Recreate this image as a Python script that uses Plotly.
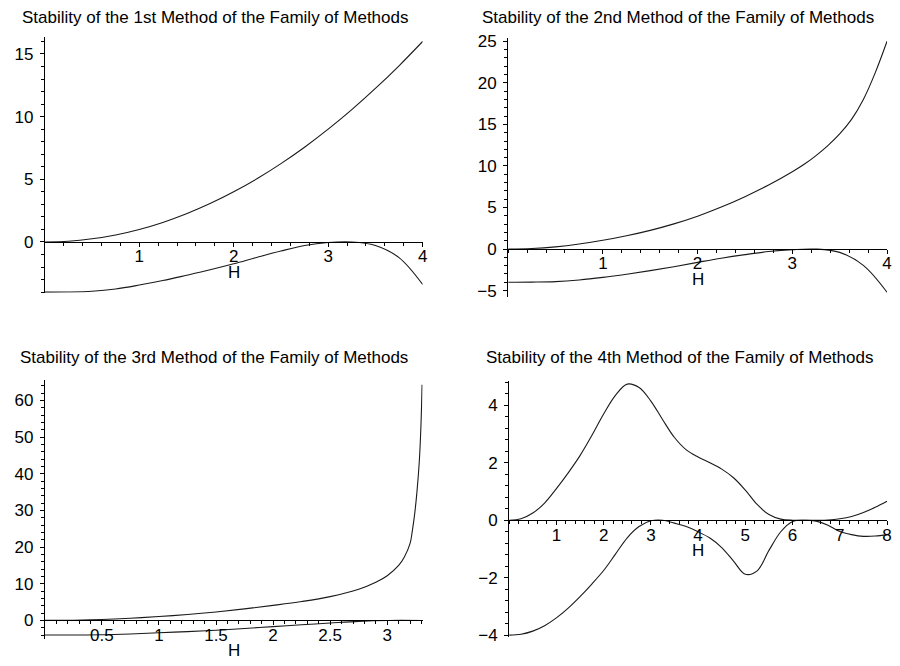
import plotly.graph_objects as go

# ---------------- data ----------------
h1 = [0, 0.25, 0.5, 0.75, 1, 1.25, 1.5, 1.75, 2, 2.25, 2.5, 2.75, 3, 3.25, 3.5, 3.75, 4]
upper1 = [0, 0.06, 0.25, 0.56, 1.0, 1.56, 2.25, 3.06, 4.0, 5.06, 6.25, 7.56, 9.0, 10.56, 12.25, 14.06, 16.0]
h1_low = [0, 0.25, 0.5, 0.75, 1, 1.25, 1.5, 1.75, 2, 2.25, 2.5, 2.75, 3, 3.25, 3.5, 3.75, 4]
lower1 = [-4.0, -3.99, -3.93, -3.75, -3.44, -3.08, -2.66, -2.22, -1.74, -1.22, -0.72, -0.28, -0.04, 0.0,
          -0.28, -1.25, -3.39]

h2 = [0, 0.25, 0.5, 0.75, 1, 1.25, 1.5, 1.75, 2, 2.25, 2.5, 2.75, 3, 3.125, 3.25, 3.375, 3.5, 3.625, 3.75,
      3.875, 4]
upper2 = [0, 0.06, 0.26, 0.6, 1.05, 1.6, 2.25, 3.03, 3.95, 5.05, 6.3, 7.7, 9.3, 10.2, 11.25, 12.45, 13.85, 15.6,
          18.0, 21.2, 25.0]
h2_low = [0, 0.25, 0.5, 0.75, 1, 1.25, 1.5, 1.75, 2, 2.25, 2.5, 2.75, 3, 3.25, 3.5, 3.75, 4]
lower2 = [-4.0, -3.98, -3.92, -3.72, -3.41, -3.03, -2.6, -2.12, -1.6, -1.1, -0.67, -0.3, -0.07, 0.0,
          -0.4, -1.96, -5.2]

h3 = [0, 0.25, 0.5, 0.75, 1, 1.25, 1.5, 1.75, 2, 2.25, 2.5, 2.75, 2.9, 3.0, 3.1, 3.15, 3.2, 3.22, 3.24,
      3.26, 3.28, 3.295, 3.305]
upper3 = [0, 0.06, 0.26, 0.6, 1.05, 1.6, 2.3, 3.15, 4.1, 5.15, 6.5, 8.5, 10.4, 12.2, 15.0, 17.3, 21.0, 24.5, 29.0,
          35.0, 43.0, 53.0, 64.3]
h3_low = [0, 0.25, 0.5, 0.75, 1, 1.25, 1.5, 1.75, 2, 2.25, 2.5, 2.75, 3, 3.305]
lower3 = [-4.0, -3.98, -3.92, -3.7, -3.38, -3.05, -2.67, -2.2, -1.69, -1.2, -0.71, -0.25, -0.02, -0.02]

h4 = [0, 0.25, 0.5, 0.75, 1, 1.25, 1.5, 1.75, 2, 2.25, 2.5, 2.75, 3, 3.25, 3.5, 3.75, 4, 4.25, 4.5,
      4.75, 5, 5.25, 5.5, 5.75, 6, 6.25, 6.5, 6.75, 7, 7.25, 7.5, 7.75, 8]
upper4 = [0, 0.05, 0.25, 0.6, 1.1, 1.65, 2.25, 2.95, 3.7, 4.35, 4.74, 4.62, 4.15, 3.5, 2.88, 2.45, 2.2, 2.0, 1.78,
          1.48, 1.05, 0.55, 0.2, 0.04, 0.0, 0.0, 0.0, 0.01, 0.05, 0.13, 0.27, 0.45, 0.66]
h4_low = h4
lower4 = [-4.0, -3.97, -3.86, -3.67, -3.4, -3.06, -2.66, -2.22, -1.75, -1.18, -0.61, -0.22, -0.02, 0.0, -0.1, -0.22,
          -0.4, -0.62, -0.95, -1.42, -1.88, -1.76, -1.05, -0.4, -0.04, 0.0, -0.03, -0.17, -0.39, -0.5, -0.56,
          -0.55, -0.5]

titles = ["Stability of the 1st Method of the Family of Methods",
          "Stability of the 2nd Method of the Family of Methods",
          "Stability of the 3rd Method of the Family of Methods",
          "Stability of the 4th Method of the Family of Methods"]

x_ticks = [[1, 2, 3, 4], [1, 2, 3, 4], [0.5, 1, 1.5, 2, 2.5, 3], [1, 2, 3, 4, 5, 6, 7, 8]]
x_ticktext = [["1", "2", "3", "4"], ["1", "2", "3", "4"], ["0.5", "1", "1.5", "2", "2.5", "3"],
              ["1", "2", "3", "4", "5", "6", "7", "8"]]
y_ticks = [[0, 5, 10, 15], [-5, 0, 5, 10, 15, 20, 25], [0, 10, 20, 30, 40, 50, 60], [-4, -2, 0, 2, 4]]
y_ticktext = [["0", "5", "10", "15"], ["\u22125", "0", "5", "10", "15", "20", "25"],
              ["0", "10", "20", "30", "40", "50", "60"], ["\u22124", "\u22122", "0", "2", "4"]]

# ---------------- layout geometry ----------------
W, H = 900, 666
FONT = "Liberation Sans, Arial, Helvetica, sans-serif"
TICK_SIZE = 17
panels = [
    dict(xpx=(45, 425), ypx=(32, 293), xr=[0, 4], yr=[-4.06, 16.33], xminor=0.2, yminor=1,
         title_xy=(216, 12)),
    dict(xpx=(511, 892), ypx=(33, 297), xr=[0, 4], yr=[-5.74, 25.36], xminor=0.2, yminor=1,
         title_xy=(682, 12)),
    dict(xpx=(45, 425), ypx=(382, 647), xr=[0, 3.31], yr=[-5.18, 65.6], xminor=0.1, yminor=2,
         title_xy=(215, 359)),
    dict(xpx=(512, 892), ypx=(383, 645), xr=[0, 8], yr=[-4.08, 4.85], xminor=0.2, yminor=0.4,
         title_xy=(683, 359)),
]

series = [(h1, upper1, h1_low, lower1), (h2, upper2, h2_low, lower2),
          (h3, upper3, h3_low, lower3), (h4, upper4, h4_low, lower4)]

fig = go.Figure()
layout = dict(width=W, height=H, margin=dict(l=0, r=0, t=0, b=0),
              paper_bgcolor="white", plot_bgcolor="white", showlegend=False,
              font=dict(family=FONT, size=TICK_SIZE, color="black"))
annotations = []

for i, p in enumerate(panels):
    n = "" if i == 0 else str(i + 1)
    xd = [p["xpx"][0] / W, p["xpx"][1] / W]
    yd = [1 - p["ypx"][1] / H, 1 - p["ypx"][0] / H]
    y0, y1 = p["yr"]
    zero_pos = yd[0] + (0 - y0) / (y1 - y0) * (yd[1] - yd[0])

    hx, up, hl, lo = series[i]
    for xs, ys in ((hx, up), (hl, lo)):
        fig.add_trace(go.Scatter(x=xs, y=ys, mode="lines", xaxis="x" + n, yaxis="y" + n,
                                 line=dict(color="#1a1a1a", width=1.1, shape="spline", smoothing=1.0),
                                 hoverinfo="skip"))

    layout["xaxis" + n] = dict(domain=xd, range=p["xr"], anchor="free", position=zero_pos,
                               showline=True, linecolor="black", linewidth=1, showgrid=False,
                               zeroline=False, ticks="outside", ticklen=4, tickwidth=1, tickcolor="black",
                               tickvals=x_ticks[i], ticktext=x_ticktext[i], ticklabelstandoff=-5,
                               tickfont=dict(family=FONT, size=TICK_SIZE, color="black"),
                               minor=dict(ticks="outside", ticklen=3, tickwidth=1, tickcolor="black",
                                          dtick=p["xminor"], tick0=0, showgrid=False),
                               fixedrange=True)
    layout["yaxis" + n] = dict(domain=yd, range=p["yr"], anchor="x" + n,
                               showline=True, linecolor="black", linewidth=1, showgrid=False,
                               zeroline=False, ticks="outside", ticklen=4, tickwidth=1, tickcolor="black",
                               tickvals=y_ticks[i], ticktext=y_ticktext[i], ticklabelstandoff=3,
                               tickfont=dict(family=FONT, size=TICK_SIZE, color="black"),
                               minor=dict(ticks="outside", ticklen=3, tickwidth=1, tickcolor="black",
                                          dtick=p["yminor"], tick0=0, showgrid=False),
                               fixedrange=True)

    # panel title
    tx, ty = p["title_xy"]
    annotations.append(dict(text=titles[i], xref="paper", yref="paper", x=tx / W, y=1 - ty / H,
                            xanchor="center", yanchor="middle", showarrow=False,
                            font=dict(family=FONT, size=17, color="black")))
    # axis label "H" under the x axis
    zero_px = H * (1 - zero_pos)
    annotations.append(dict(text="H", xref="x" + n, yref="paper",
                            x=(p["xr"][0] + p["xr"][1]) / 2, y=1 - (zero_px + 31) / H,
                            xanchor="center", yanchor="middle", showarrow=False,
                            font=dict(family=FONT, size=TICK_SIZE, color="black")))

layout["annotations"] = annotations
fig.update_layout(**layout)
fig.write_html("out.html")
